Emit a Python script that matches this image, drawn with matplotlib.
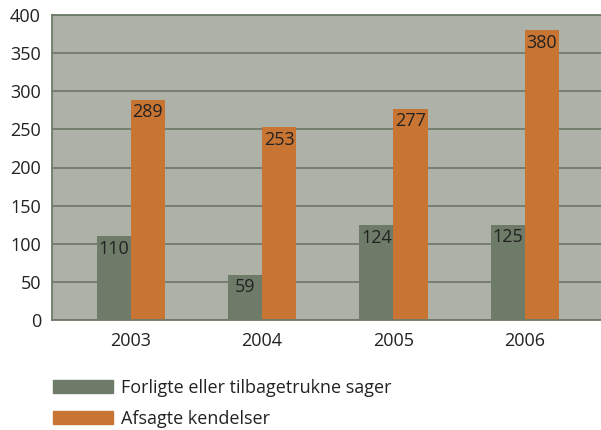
import matplotlib
matplotlib.use("Agg")
from matplotlib import pyplot as plt
from matplotlib.patches import Patch
import numpy as np

# data
years = ["2003", "2004", "2005", "2006"]
forligte = [110, 59, 124, 125]
afsagte = [289, 253, 277, 380]
series_names = ["Forligte eller tilbagetrukne sager", "Afsagte kendelser"]

green = "#6f7b69"
orange = "#c87533"
bg = "#aeb1a7"
txt = "#222222"
fs = 13

plt.rcParams['font.family'] = ['Open Sans', 'DejaVu Sans']

fig = plt.figure(figsize=(6.01, 4.30), dpi=100)
ax = fig.add_axes([52/601, 110/430, 549/601, 305/430])
ax.set_facecolor(bg)

x = np.arange(len(years))
w = 0.26
b1 = ax.bar(x - w/2, forligte, w, color=green, zorder=2)
b2 = ax.bar(x + w/2, afsagte, w, color=orange, zorder=2)

# value labels just inside the top of each bar
for bars in (b1, b2):
    for r in bars:
        ax.annotate(str(int(r.get_height())), (r.get_x() + r.get_width()/2, r.get_height()),
                    xytext=(0, -2.5), textcoords="offset points", ha="center", va="top",
                    fontsize=fs, color=txt, zorder=3)

ax.set_ylim(0, 400)
ax.set_yticks(range(0, 401, 50))
ax.set_xlim(-0.6, 3.58)
ax.set_xticks(x)
ax.set_xticklabels(years)
ax.yaxis.grid(True, color=green, linewidth=1.3)
ax.set_axisbelow(True)
ax.tick_params(length=0, labelsize=fs, labelcolor=txt)
ax.tick_params(axis="y", pad=8)
ax.tick_params(axis="x", pad=9)

for side in ["left", "bottom", "top"]:
    ax.spines[side].set_color(green)
    ax.spines[side].set_linewidth(1.3)
ax.spines["right"].set_visible(False)

handles = [Patch(color=green), Patch(color=orange)]
fig.legend(handles, series_names, loc="upper left", bbox_to_anchor=(46/601, 1 - 372/430),
           frameon=False, fontsize=fs, handlelength=3.3, handleheight=0.72,
           handletextpad=0.45, labelspacing=0.7, labelcolor=txt, borderaxespad=0)

fig.savefig("out.png", dpi=100)
